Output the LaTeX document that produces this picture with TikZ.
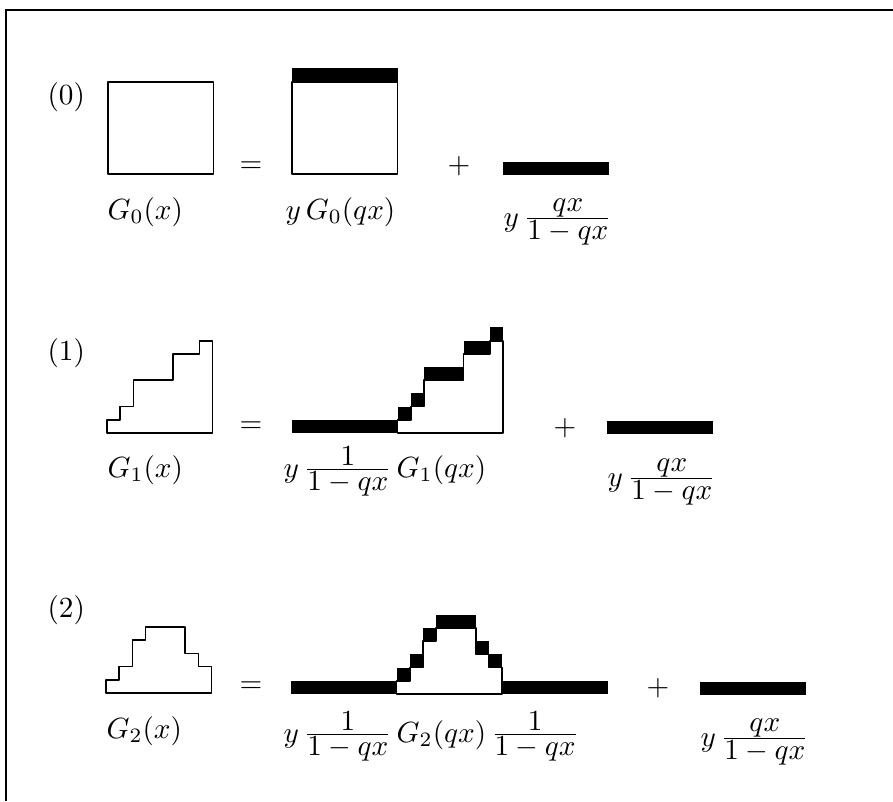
\documentclass[tikz,border=0pt]{standalone}
\usepackage{amsmath,amssymb}
% tight fraction with full-size parts
\newcommand{\ffrac}[2]{\frac{\textstyle #1}{\textstyle #2}}

\begin{document}
\begin{tikzpicture}[
  x=0.3425pt, y=-0.3425pt,
  cell/.style={x=4.52pt, y=4.52pt},
  outline/.style={draw, line width=0.6pt, line join=round},
  blk/.style={fill=black},
  lab/.style={anchor=base west, inner sep=0pt},
  sym/.style={inner sep=0pt},
]
\useasboundingbox (0,0) rectangle (893,801);
% frame (cut off at the right and at the bottom)
\draw[line width=0.7pt] (893,10) -- (6,10) -- (6,801);

% row (0): rectangles
\node[lab] (n0) at (47,104) {(0)};
\begin{scope}[shift={(108,174)}, cell]
  \draw[outline] (0,0) rectangle (8,7);
\end{scope}
\node[sym] (eq0) at (251,167) {$=$};
\begin{scope}[shift={(292,174)}, cell]
  \fill[blk] (0,7) rectangle (8,8);
  \draw[outline] (0,0) rectangle (8,7);
\end{scope}
\node[sym] (pl0) at (459,166) {$+$};
\fill[blk, shift={(503,175)}, cell] (0,0) rectangle (8,1);
\node[lab] (g0) at (107,219) {$G_0(x)$};
\node[lab] (m0) at (285,219) {$y\,G_0(qx)$};
\node[lab] (r0) at (503,226) {$y\,\ffrac{qx}{1-qx}$};

% row (1): staircases
\node[lab] (n1) at (47,360) {(1)};
\begin{scope}[shift={(107,433)}, cell]
  \draw[outline] (0,0) -- (0,1) -- (1,1) -- (1,2) -- (2,2) -- (2,4) -- (5,4)
    -- (5,6) -- (7,6) -- (7,7) -- (8,7) -- (8,0) -- cycle;
\end{scope}
\node[sym] (eq1) at (251,427) {$=$};
\begin{scope}[shift={(292,433)}, cell]
  \fill[blk] (0,0) rectangle (8,1);
  \begin{scope}[shift={(8,0)}]
    \draw[outline] (0,0) -- (0,1) -- (1,1) -- (1,2) -- (2,2) -- (2,4) -- (5,4)
      -- (5,6) -- (7,6) -- (7,7) -- (8,7) -- (8,0) -- cycle;
    \foreach \h [count=\i] in {1,2,4,4,4,6,6,7}
      \fill[blk] (\i-1,\h) rectangle (\i,\h+1);
  \end{scope}
\end{scope}
\node[sym] (pl1) at (565,428) {$+$};
\fill[blk, shift={(607,434)}, cell] (0,0) rectangle (8,1);
\node[lab] (g1) at (107,477) {$G_1(x)$};
\node[lab] (m1) at (283,477) {$y\,\ffrac{1}{1-qx}\,G_1(qx)$};
\node[lab] (r1) at (607,486) {$y\,\ffrac{qx}{1-qx}$};

% row (2): pyramids
\node[lab] (n2) at (47,617) {(2)};
\begin{scope}[shift={(106,693)}, cell]
  \draw[outline] (0,0) -- (0,1) -- (1,1) -- (1,2) -- (2,2) -- (2,4) -- (3,4)
    -- (3,5) -- (6,5) -- (6,3) -- (7,3) -- (7,2) -- (8,2) -- (8,0) -- cycle;
\end{scope}
\node[sym] (eq2) at (251,687) {$=$};
\begin{scope}[shift={(291,694)}, cell]
  \fill[blk] (0,0) rectangle (8,1);
  \fill[blk] (16,0) rectangle (24,1);
  \begin{scope}[shift={(8,0)}]
    \draw[outline] (0,0) -- (0,1) -- (1,1) -- (1,2) -- (2,2) -- (2,4) -- (3,4)
      -- (3,5) -- (6,5) -- (6,3) -- (7,3) -- (7,2) -- (8,2) -- (8,0) -- cycle;
    \foreach \h [count=\i] in {1,2,4,5,5,5,3,2}
      \fill[blk] (\i-1,\h) rectangle (\i,\h+1);
  \end{scope}
\end{scope}
\node[sym] (pl2) at (658,688) {$+$};
\fill[blk, shift={(700,695)}, cell] (0,0) rectangle (8,1);
\node[lab] (g2) at (106,738) {$G_2(x)$};
\node[lab] (m2) at (283,742) {$y\,\ffrac{1}{1-qx}\,G_2(qx)\,\ffrac{1}{1-qx}$};
\node[lab] (r2) at (700,746) {$y\,\ffrac{qx}{1-qx}$};
\end{tikzpicture}
\end{document}
